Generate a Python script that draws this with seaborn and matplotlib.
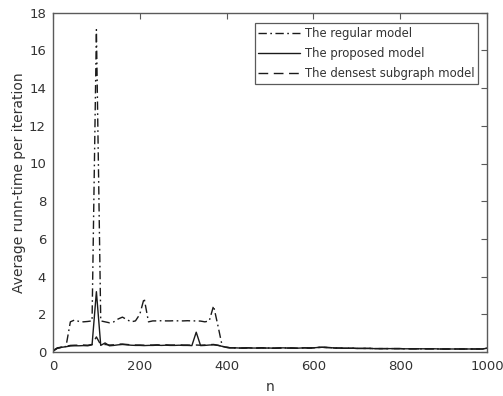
import matplotlib
matplotlib.use("Agg")
import matplotlib.pyplot as plt
import numpy as np
import pandas as pd
import seaborn as sns

# Problem sizes n (sampled every 10)
n_values = [1] + list(range(10, 1001, 10))

# Average run-time per iteration for each model
regular_model = [
    0.10, 0.20, 0.25, 0.30, 1.60, 1.70, 1.62, 1.60, 1.62, 1.65,   # 1 .. 90
    17.1, 1.65, 1.60, 1.55, 1.60, 1.75, 1.85, 1.72, 1.60, 1.65,   # 100 .. 190
    2.00, 2.85, 1.60, 1.65, 1.65, 1.66, 1.65, 1.65, 1.66, 1.65,   # 200 .. 290
    1.65, 1.66, 1.65, 1.65, 1.64, 1.60, 1.65, 2.45, 1.40, 0.30,   # 300 .. 390
    0.25, 0.22, 0.22, 0.21, 0.21, 0.22, 0.21, 0.21, 0.22, 0.21,   # 400 .. 490
    0.21, 0.20, 0.21, 0.22, 0.21, 0.21, 0.20, 0.21, 0.22, 0.21,   # 500 .. 590
    0.22, 0.24, 0.25, 0.24, 0.23, 0.21, 0.21, 0.20, 0.20, 0.20,   # 600 .. 690
    0.19, 0.19, 0.19, 0.19, 0.18, 0.18, 0.18, 0.18, 0.18, 0.18,   # 700 .. 790
    0.18, 0.17, 0.17, 0.17, 0.17, 0.17, 0.17, 0.17, 0.17, 0.16,   # 800 .. 890
    0.16, 0.16, 0.16, 0.16, 0.16, 0.16, 0.16, 0.16, 0.16, 0.16,   # 900 .. 990
    0.22,                                                          # 1000
]
proposed_model = [
    0.05, 0.20, 0.25, 0.28, 0.32, 0.33, 0.33, 0.34, 0.33, 0.38,
    3.20, 0.35, 0.48, 0.33, 0.35, 0.38, 0.40, 0.38, 0.36, 0.35,
    0.35, 0.34, 0.35, 0.35, 0.36, 0.35, 0.36, 0.35, 0.35, 0.36,
    0.35, 0.35, 0.34, 1.05, 0.34, 0.35, 0.37, 0.38, 0.35, 0.30,
    0.24, 0.22, 0.22, 0.21, 0.21, 0.22, 0.21, 0.21, 0.22, 0.21,
    0.21, 0.20, 0.21, 0.22, 0.21, 0.21, 0.20, 0.21, 0.22, 0.21,
    0.22, 0.24, 0.25, 0.24, 0.23, 0.21, 0.21, 0.20, 0.20, 0.20,
    0.19, 0.19, 0.19, 0.19, 0.18, 0.18, 0.18, 0.18, 0.18, 0.18,
    0.18, 0.17, 0.17, 0.17, 0.17, 0.17, 0.17, 0.17, 0.17, 0.16,
    0.16, 0.16, 0.16, 0.16, 0.16, 0.16, 0.16, 0.16, 0.16, 0.16,
    0.20,
]
densest_subgraph_model = [
    0.08, 0.22, 0.26, 0.30, 0.35, 0.36, 0.36, 0.37, 0.36, 0.40,
    0.80, 0.38, 0.40, 0.37, 0.38, 0.42, 0.42, 0.40, 0.38, 0.37,
    0.37, 0.36, 0.37, 0.37, 0.38, 0.37, 0.38, 0.37, 0.37, 0.38,
    0.37, 0.37, 0.36, 0.37, 0.36, 0.37, 0.39, 0.40, 0.36, 0.30,
    0.25, 0.22, 0.22, 0.21, 0.21, 0.22, 0.21, 0.21, 0.22, 0.21,
    0.21, 0.20, 0.21, 0.22, 0.21, 0.21, 0.20, 0.21, 0.22, 0.21,
    0.22, 0.24, 0.25, 0.24, 0.23, 0.21, 0.21, 0.20, 0.20, 0.20,
    0.19, 0.19, 0.19, 0.19, 0.18, 0.18, 0.18, 0.18, 0.18, 0.18,
    0.18, 0.17, 0.17, 0.17, 0.17, 0.17, 0.17, 0.17, 0.17, 0.16,
    0.16, 0.16, 0.16, 0.16, 0.16, 0.16, 0.16, 0.16, 0.16, 0.16,
    0.21,
]

series_labels = ["The regular model", "The proposed model", "The densest subgraph model"]
x_ticks = [0, 200, 400, 600, 800, 1000]
y_ticks = list(range(0, 19, 2))

sns.set_style("white")
plt.rcParams["font.family"] = ["DejaVu Sans"]

df = pd.DataFrame({
    "n": n_values * 3,
    "time": regular_model + proposed_model + densest_subgraph_model,
    "model": sum([[lab] * len(n_values) for lab in series_labels], []),
})

fig = plt.figure(figsize=(5.03, 3.96), dpi=100)
ax = fig.add_axes([53 / 503, 1 - 352 / 396, 434 / 503, 339.3 / 396])

styles = {
    series_labels[0]: (0, (6, 2.5, 1.2, 2.5)),
    series_labels[1]: "-",
    series_labels[2]: (0, (7, 4)),
}
line_color = "#1a1a1a"
for lab in series_labels:
    sns.lineplot(data=df[df["model"] == lab], x="n", y="time", ax=ax,
                 color=line_color, linewidth=1.0, label=lab)
    ax.lines[-1].set_linestyle(styles[lab])

ax.set_xlim(0, 1000)
ax.set_ylim(0, 18)
ax.set_xticks(x_ticks)
ax.set_yticks(y_ticks)

axis_color = "#5a5a5a"
text_color = "#333333"
for sp in ax.spines.values():
    sp.set_color(axis_color)
    sp.set_linewidth(1.0)
ax.tick_params(direction="in", length=4, width=0.8, colors=axis_color,
               top=True, right=True, labelsize=9.5, labelcolor=text_color)
ax.tick_params(axis="x", pad=6)
ax.tick_params(axis="y", pad=5)
ax.set_xlabel("n", fontsize=10, color=text_color, labelpad=5)
ax.set_ylabel("Average runn-time per iteration", fontsize=10, color=text_color, labelpad=2)

leg = ax.legend(loc="upper right", bbox_to_anchor=(0.979, 0.969), fontsize=8.4,
                frameon=True, fancybox=False, framealpha=1, edgecolor=axis_color,
                handlelength=3.6, handletextpad=0.4, borderpad=0.3,
                labelspacing=0.62, borderaxespad=0)
leg.get_frame().set_linewidth(0.9)
for txt in leg.get_texts():
    txt.set_color(text_color)

fig.savefig("out.png", dpi=100)
